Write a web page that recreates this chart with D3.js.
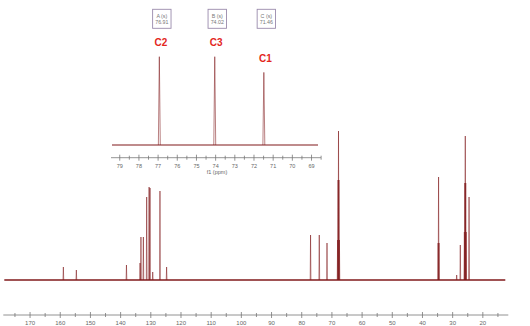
<!DOCTYPE html>
<html lang="en">
<head>
  <meta charset="UTF-8">
  <title>13C NMR spectrum</title>
  <script src="https://d3js.org/d3.v7.min.js"></script>
  <style>
    body { margin: 0; background: #fff; }
    svg { display: block; font-family: "Liberation Sans", Arial, sans-serif; }
    .tick text { fill: #666; }
  </style>
</head>
<body>
  <div id="chart"></div>
  <script>
    // peak list (ppm, intensity)
    const peakPpm = [158.8, 154.5, 137.9, 133.4, 133.1, 132.3, 131.2, 130.4, 130.1, 129.2, 126.8, 124.6,
                     76.91, 74.02, 71.46,
                     67.95, 67.8, 67.65, 67.5, 67.35,
                     34.65, 34.5, 34.35, 28.5, 27.3,
                     25.95, 25.8, 25.65, 25.5, 25.35, 24.4];
    const peakHeight = [13, 10, 15, 17, 43, 43, 83, 93, 92, 8, 89, 13,
                        45, 45, 37,
                        40, 100, 149, 100, 40,
                        37, 103, 37, 5, 35,
                        48, 97, 144, 97, 48, 83];

    // multiplet boxes + assignments shown in the expansion
    const multLetters = ["A", "B", "C"];
    const multShifts = [76.91, 74.02, 71.46];
    const assignments = ["C2", "C3", "C1"];

    const mainTicks = [170, 160, 150, 140, 130, 120, 110, 100, 90, 80, 70, 60, 50, 40, 30, 20];
    const insetTicks = [79, 78, 77, 76, 75, 74, 73, 72, 71, 70, 69];

    const W = 530, H = 326;
    const svg = d3.select("#chart").append("svg").attr("width", W).attr("height", H);

    const lineColor = "#80181a";

    // main spectrum scales
    const x = d3.scaleLinear().domain([178.7, 11.4]).range([3.3, 508.3]);
    const y = d3.scaleLinear().domain([0, 150]).range([280, 130]);

    // expansion scales
    const xi = d3.scaleLinear().domain([79.43, 68.48]).range([111, 321]);
    const yi = d3.scaleLinear().domain([0, 45]).range([145, 56.7]);

    const peaks = peakPpm.map((p, i) => ({ppm: p, h: peakHeight[i]}));

    function drawSpectrum(g, xs, ys, hw, bw) {
      const [d0, d1] = xs.domain();
      // baseline
      g.append("line")
        .attr("x1", xs(d0) + 1).attr("x2", xs(d1) - 3)
        .attr("y1", ys(0)).attr("y2", ys(0))
        .attr("stroke", lineColor).attr("stroke-width", bw);
      const vis = peaks.filter(d => d.ppm <= d0 && d.ppm >= d1);
      g.selectAll("path.pk")
        .data(vis)
        .enter()
        .append("path")
        .attr("class", "pk")
        .attr("d", d => `M${xs(d.ppm + hw)},${ys(0)}L${xs(d.ppm)},${ys(d.h)}L${xs(d.ppm - hw)},${ys(0)}`)
        .attr("fill", "none")
        .attr("stroke", lineColor)
        .attr("stroke-opacity", 0.85)
        .attr("stroke-width", 0.65);
    }

    function drawAxis(g, xs, yPos, majors, minors, fs) {
      const ax = d3.axisBottom(xs).tickValues(majors).tickSize(3).tickFormat(d3.format("d"));
      const a = g.append("g").attr("transform", `translate(0,${yPos})`).call(ax);
      a.select(".domain").attr("stroke", "#777").attr("stroke-width", 0.8)
        .attr("d", `M${xs.range()[0]},0H${xs.range()[1]}`);
      a.selectAll(".tick line").attr("y1", -3).attr("y2", 3).attr("stroke", "#777").attr("stroke-width", 0.8);
      a.selectAll(".tick text").attr("y", 6).attr("font-size", fs).attr("font-family", "Liberation Sans, Arial, sans-serif");
      const ax2 = d3.axisBottom(xs).tickValues(minors).tickSize(2).tickFormat("");
      const b = g.append("g").attr("transform", `translate(0,${yPos})`).call(ax2);
      b.select(".domain").remove();
      b.selectAll(".tick line").attr("y1", -2).attr("y2", 2).attr("stroke", "#777").attr("stroke-width", 0.8);
    }

    // main spectrum
    const gMain = svg.append("g");
    drawSpectrum(gMain, x, y, 0.12, 1.3);
    const mainMinor = mainTicks.map(t => t + 5).concat([15]);
    drawAxis(svg.append("g"), x, 315, mainTicks, mainMinor, 6);

    // expansion
    const gIn = svg.append("g");
    drawSpectrum(gIn, xi, yi, 0.05, 1.2);
    const insetMinor = insetTicks.map(t => t + 0.5).filter(t => t < 79.43).concat([68.5]);
    drawAxis(svg.append("g"), xi, 157.7, insetTicks, insetMinor, 5.5);
    svg.append("text")
      .attr("x", 217).attr("y", 174)
      .attr("text-anchor", "middle")
      .attr("font-size", 5.5)
      .attr("fill", "#666")
      .text("f1 (ppm)");

    // multiplet boxes
    const boxes = svg.append("g").selectAll("g")
      .data(multShifts)
      .enter()
      .append("g")
      .attr("transform", d => `translate(${xi(d) + 2.5},0)`);
    boxes.append("rect")
      .attr("x", -9.2).attr("y", 9.3)
      .attr("width", 18.4).attr("height", 19)
      .attr("fill", "#fff")
      .attr("stroke", "#9a8aac")
      .attr("stroke-width", 0.9);
    boxes.append("text")
      .attr("y", 17.5).attr("text-anchor", "middle")
      .attr("font-size", 5.3).attr("fill", "#777")
      .text((d, i) => `${multLetters[i]} (s)`);
    boxes.append("text")
      .attr("y", 24.3).attr("text-anchor", "middle")
      .attr("font-size", 5.3).attr("fill", "#777")
      .text(d => d.toFixed(2));

    // carbon assignments
    svg.append("g").selectAll("text")
      .data(multShifts)
      .enter()
      .append("text")
      .attr("x", d => xi(d) + 1.5)
      .attr("y", (d, i) => yi(peaks.find(p => p.ppm === d).h) - 10.5)
      .attr("text-anchor", "middle")
      .attr("font-size", 10)
      .attr("font-weight", "bold")
      .attr("fill", "#e3261c")
      .text((d, i) => assignments[i]);
  </script>
</body>
</html>
